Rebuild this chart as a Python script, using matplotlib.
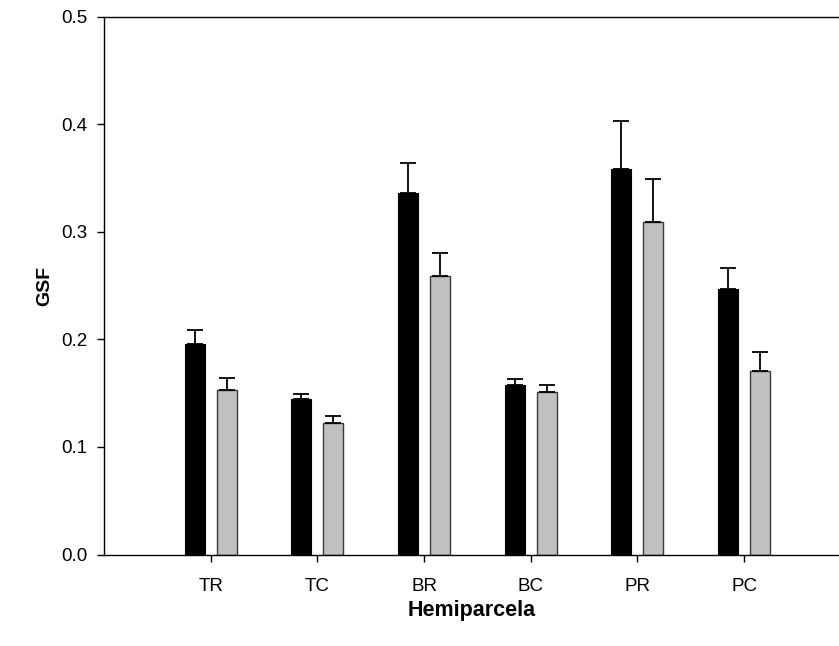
import numpy as np
import matplotlib.pyplot as plt

plt.rcParams['font.family'] = ['Liberation Sans', 'DejaVu Sans']

categories = ["TR", "TC", "BR", "BC", "PR", "PC"]
black_vals = [0.196, 0.145, 0.336, 0.158, 0.358, 0.247]
black_err = [0.0125, 0.0047, 0.028, 0.0054, 0.045, 0.019]
gray_vals = [0.153, 0.122, 0.259, 0.151, 0.309, 0.171]
gray_err = [0.011, 0.007, 0.021, 0.0066, 0.040, 0.017]

fig = plt.figure(figsize=(8.39, 6.46), dpi=100)
ax = fig.add_axes([0.124, 0.1416, 0.876, 0.8325])

x = np.arange(1, len(categories) + 1)
w = 0.1875
ax.bar(x - 0.15, black_vals, w, color='black', edgecolor='black', linewidth=0.8,
       yerr=[np.zeros(len(x)), black_err], capsize=6,
       error_kw=dict(ecolor='black', elinewidth=1.3, capthick=1.3))
ax.bar(x + 0.15, gray_vals, w, color='#c0c0c0', edgecolor='#3a3a3a', linewidth=1.0,
       yerr=[np.zeros(len(x)), gray_err], capsize=6,
       error_kw=dict(ecolor='black', elinewidth=1.3, capthick=1.3))

ax.set_xlim(0, 6.89)
ax.set_ylim(0, 0.5)
ax.set_xticks(x)
ax.set_xticklabels(categories)
ax.set_yticks([0.0, 0.1, 0.2, 0.3, 0.4, 0.5])
ax.set_yticklabels(["0.0", "0.1", "0.2", "0.3", "0.4", "0.5"])
ax.tick_params(axis='both', labelsize=13.5, direction='out', length=5, width=1)
ax.tick_params(axis='y', pad=7)
ax.tick_params(axis='x', pad=12)

ax.spines['right'].set_visible(False)
for s in ['left', 'top', 'bottom']:
    ax.spines[s].set_linewidth(1.0)

ax.set_xlabel("Hemiparcela", fontsize=15.5, fontweight='bold', labelpad=3.5)
ax.set_ylabel("GSF", fontsize=14, fontweight='bold', labelpad=6)

fig.savefig("out.png", dpi=100)
